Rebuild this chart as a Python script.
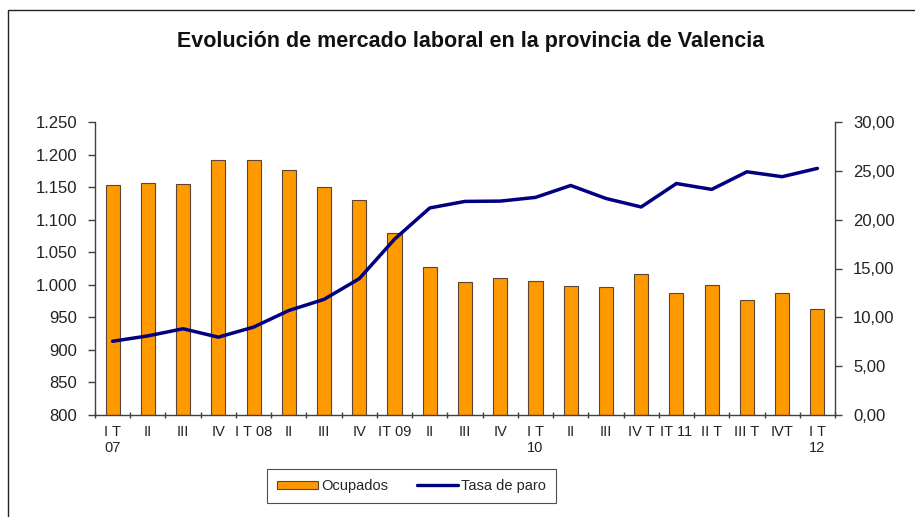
import numpy as np, pandas as pd, matplotlib.pyplot as plt, seaborn as sns
from matplotlib.patches import Rectangle, Patch
from matplotlib.lines import Line2D
from matplotlib.ticker import FuncFormatter, MultipleLocator

# DATA
periodos = ["I T\n07", "II", "III", "IV", "I T 08", "II", "III", "IV", "IT 09", "II", "III",
            "IV", "I T\n10", "II", "III", "IV T", "IT 11", "II T", "III T", "IVT", "I T\n12"]
ocupados = [1154, 1157, 1155, 1192, 1192, 1176, 1150, 1130, 1079, 1028, 1005,
            1011, 1006, 998, 996, 1017, 987, 1000, 977, 988, 963]
tasa_paro = [7.55, 8.1, 8.83, 7.97, 9.0, 10.7, 11.84, 13.96, 18.0, 21.2, 21.87,
             21.9, 22.28, 23.5, 22.17, 21.3, 23.7, 23.1, 24.9, 24.4, 25.25]

df = pd.DataFrame({"pos": np.arange(len(periodos)), "ocupados": ocupados, "tasa": tasa_paro})

sns.set_theme(style="white")
plt.rcParams["font.family"] = ["Liberation Sans", "DejaVu Sans"]

fig = plt.figure(figsize=(9.15, 5.17), dpi=100)
ax = fig.add_axes([95/915, 1-415/517, 740/915, 293/517])

orange = "#FF9900"
navy = "#000080"

sns.barplot(data=df, x="pos", y="ocupados", color=orange, width=0.4,
            edgecolor="#5a4632", linewidth=0.8, saturation=1, ax=ax)
ax.set_ylim(800, 1250)
ax.set_xlim(-0.5, len(periodos) - 0.5)

ax2 = ax.twinx()
sns.lineplot(data=df, x="pos", y="tasa", color=navy, linewidth=2.5, ax=ax2)
ax2.set_ylim(0, 30)
ax2.set_xlim(-0.5, len(periodos) - 0.5)

# ejes
ax.yaxis.set_major_locator(MultipleLocator(50))
ax.yaxis.set_major_formatter(FuncFormatter(lambda v, p: f"{int(v):,}".replace(",", ".")))
ax2.yaxis.set_major_locator(MultipleLocator(5))
ax2.yaxis.set_major_formatter(FuncFormatter(lambda v, p: f"{v:.2f}".replace(".", ",")))

ax.set_xticks(df["pos"])
ax.set_xticklabels(periodos, multialignment="left")
ax.set_xticks(np.arange(-0.5, len(periodos)), minor=True)
ax.tick_params(axis="x", which="major", length=0, pad=7, labelsize=10.5, labelcolor="#222222")
ax.tick_params(axis="x", which="minor", length=5, direction="inout", color="#404040", width=1, bottom=True)
ax.tick_params(axis="y", which="major", left=True, length=5, width=1, color="#404040",
               labelsize=12, labelcolor="#222222", pad=8)
ax2.tick_params(axis="y", which="major", right=True, length=5, width=1, color="#404040",
                labelsize=12, labelcolor="#222222", pad=8)
ax.set_xlabel(""); ax.set_ylabel(""); ax2.set_xlabel(""); ax2.set_ylabel("")

for a in (ax, ax2):
    a.spines["top"].set_visible(False)
    for s in ("left", "right", "bottom"):
        a.spines[s].set_color("#404040")
        a.spines[s].set_linewidth(1)
ax.spines["right"].set_visible(False)
ax2.spines["left"].set_visible(False)
ax2.spines["bottom"].set_visible(False)

fig.text(0.514, 1-42/517, "Evolución de mercado laboral en la provincia de Valencia",
         ha="center", va="center", fontsize=15.5, fontweight="bold", color="#111111")

handles = [Patch(facecolor=orange, edgecolor="#5a4632", linewidth=0.8),
           Line2D([0], [0], color=navy, linewidth=2.4)]
leg = fig.legend(handles, ["Ocupados", "Tasa de paro"], loc="center",
                 bbox_to_anchor=(411.5/915, 1-486/517), ncol=2, fontsize=10.5,
                 frameon=True, fancybox=False, handlelength=2.8, handleheight=0.5,
                 handletextpad=0.2, columnspacing=2.0, borderpad=0.7)
leg.get_frame().set_edgecolor("#222222")
leg.get_frame().set_linewidth(0.8)

# marco exterior del gráfico
fig.patches.append(Rectangle((8/915, -0.1), 1.2, 1-10/517+0.1, transform=fig.transFigure,
                             fill=False, edgecolor="#222222", linewidth=1))

fig.savefig("out.png", dpi=100)
